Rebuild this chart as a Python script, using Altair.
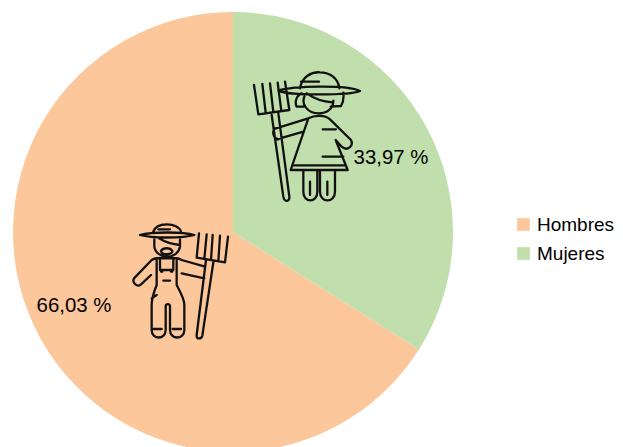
import altair as alt
import pandas as pd

categories = ["Hombres", "Mujeres"]
values = [66.03, 33.97]
orders = [2, 1]
labels = ["66,03 %", "33,97 %"]
colors = ["#FDC79C", "#C1DFAC"]

FONT = "Liberation Sans"

MUJER = (
    "M180,85 C185,50 215,35 240,37 C270,37 295,55 298,85 "
    "M115,92 C160,78 320,74 360,93 C330,106 150,108 115,92 Z "
    "M183,65 L237,65 "
    "M193,110 C183,135 205,160 235,160 C262,160 280,145 280,122 "
    "M185,100 C165,110 165,130 170,140 L192,140 M310,98 C312,115 308,130 303,138 L272,140 "
    "M200,100 C225,118 250,125 278,127 "
    "M205,175 C225,165 255,165 270,178 L333,240 C342,258 322,275 305,260 L287,240 L323,330 L152,330 L205,175 "
    "M160,316 L316,316 M248,208 L288,208 M248,290 L310,290 "
    "M205,175 L108,205 M190,215 L110,238 M105,205 C95,215 100,235 115,238 "
    "M190,332 L190,395 C190,430 232,430 232,395 L232,332 "
    "M240,332 L240,395 C240,430 285,430 285,395 L285,332 "
    "M210,365 L210,405 M262,365 L262,405 "
    "M42,75 L55,163 L148,150 L135,65 M67,72 L77,158 M90,70 L100,156 M113,68 L124,153 "
    "M95,165 L130,410 C133,428 150,425 148,410 L115,160"
)

HOMBRE = (
    "M45,60 C80,50 175,50 208,60 C175,70 80,70 45,60 Z "
    "M85,50 C90,35 105,28 125,28 C148,28 165,38 168,50 M100,43 L135,43 "
    "M88,68 L88,95 C90,115 110,125 127,125 C145,125 162,115 165,95 L165,68 "
    "M102,70 C115,78 135,88 165,90 "
    "M108,108 C115,97 135,97 142,108 C145,120 110,122 108,108 "
    "M80,135 C90,128 105,128 125,130 C145,128 160,128 170,135 "
    "M80,135 L27,190 C20,205 38,218 48,208 L78,180 "
    "M170,135 L240,155 M170,175 L238,190 "
    "M95,135 L95,210 M105,135 L105,165 L145,165 L145,135 M155,135 L155,210 "
    "M95,210 C85,235 80,250 80,270 L80,345 C80,375 122,375 122,345 L122,275 C122,265 135,265 135,275 "
    "L135,345 C135,375 178,375 178,345 L178,270 C178,250 165,230 155,210 "
    "M80,250 L95,240 M115,197 L135,197 M85,342 L110,342 M143,342 L168,342 M108,170 L112,170 M138,170 L142,170 "
    "M222,55 L215,128 L300,142 L309,65 M245,58 L238,132 M263,60 L258,135 M285,62 L280,139 "
    "M243,135 L215,360 C213,375 230,372 232,362 L265,142"
)

df = pd.DataFrame({"sexo": categories, "valor": values, "orden": orders, "label": labels})

pie = (
    alt.Chart(df)
    .mark_arc(radius=220)
    .encode(
        x=alt.value(225),
        y=alt.value(224),
        theta=alt.Theta("valor:Q", stack=True, scale=alt.Scale(domain=[0, 100], range=[0, 6.28318530718])),
        order=alt.Order("orden:Q"),
        color=alt.Color(
            "sexo:N",
            scale=alt.Scale(domain=categories, range=colors),
            legend=alt.Legend(
                title=None,
                orient="none",
                legendX=506,
                legendY=207,
                symbolType="square",
                symbolSize=160,
                symbolStrokeWidth=0,
                labelFont=FONT,
                labelFontSize=19,
                labelColor="#000000",
                rowPadding=9,
                labelOffset=4,
                labelLimit=200,
            ),
        ),
    )
)

def icon(path, x, y):
    return (
        alt.Chart(df.head(1))
        .mark_point(shape=path, size=4 / 9, filled=False, stroke="#111111", strokeWidth=2.3,
                    strokeCap="round", strokeJoin="round", opacity=1)
        .encode(x=alt.value(x), y=alt.value(y))
    )

def label(sexo, x, y):
    return (
        alt.Chart(df)
        .transform_filter(alt.datum.sexo == sexo)
        .mark_text(font=FONT, fontSize=20.4, color="#000000", align="center", baseline="middle")
        .encode(x=alt.value(x), y=alt.value(y), text="label:N")
    )

chart = (
    alt.layer(
        pie,
        icon(MUJER, 232, 52),
        icon(HOMBRE, 117, 207),
        label("Mujeres", 383, 150),
        label("Hombres", 66, 298),
    )
    .properties(
        width=607,
        height=439,
        padding=0,
        autosize=alt.AutoSizeParams(type="none"),
        background="#ffffff",
    )
    .configure_view(stroke=None)
)

chart.save("out.html", embed_options={"renderer": "svg", "actions": False})
